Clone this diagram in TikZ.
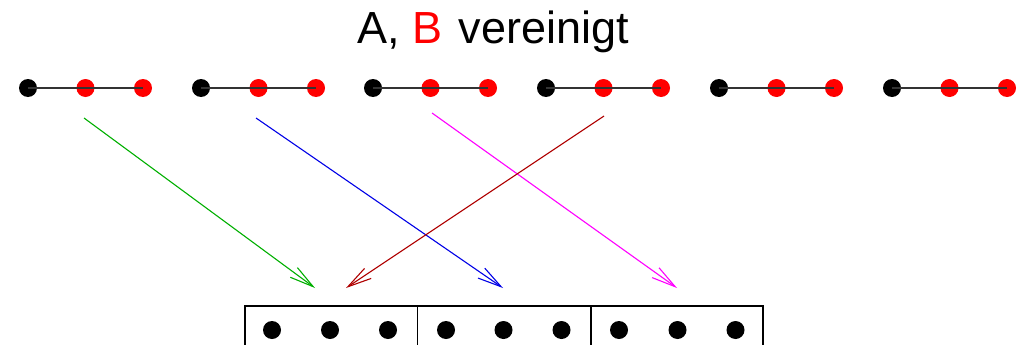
\documentclass[tikz,border=0pt]{standalone}
\usepackage{fontspec}
\setmainfont{Liberation Sans}
\usetikzlibrary{arrows.meta}
\definecolor{mygreen}{RGB}{0,175,0}
\definecolor{myblue}{RGB}{0,0,230}
\definecolor{mymag}{RGB}{255,0,255}
\definecolor{myred}{RGB}{175,0,0}
\begin{document}
\begin{tikzpicture}[x=1pt,y=-1pt,
  bdot/.style={circle,fill=black,inner sep=0pt,minimum size=18pt},
  rdot/.style={circle,fill=red,inner sep=0pt,minimum size=18pt},
  sdot/.style={circle,fill=black,inner sep=0pt,minimum width=17pt,minimum height=18pt},
  link/.style={draw=black!80,line width=1.4pt},
  arr/.style={line width=1.1pt,-{Straight Barb[length=24pt,width=12pt,line width=1.1pt]}},
  boxline/.style={draw=black,line width=1.3pt}]
\useasboundingbox (0,0) rectangle (1019,345);
\clip (0,0) rectangle (1019,345);
\node[anchor=base west,inner sep=0pt] (title) at (357,44) {\fontsize{45}{45}\selectfont A, \textcolor{red}{B}\hspace{4pt} vereinigt};
\foreach \i/\x in {1/28,2/201,3/373,4/546,5/719,6/892}{
  \node[bdot] (b\i) at (\x,88) {};
  \node[rdot] (r\i) at (\x+57.5,88) {};
  \node[rdot] (s\i) at (\x+115,88) {};
  \draw[link] (b\i.center) -- (s\i.center);
}
\coordinate (g0) at (84,118);
\coordinate (g1) at (315,288);
\coordinate (u0) at (256,118);
\coordinate (u1) at (503,288);
\coordinate (m0) at (432,113);
\coordinate (m1) at (677,288);
\coordinate (d0) at (604,116);
\coordinate (d1) at (346,288);
\draw[arr,mygreen] (g0) -- (g1);
\draw[arr,myblue] (u0) -- (u1);
\draw[arr,mymag] (m0) -- (m1);
\draw[arr,myred] (d0) -- (d1);
\coordinate (bx0) at (245,306);
\coordinate (bx1) at (763,360);
\draw[boxline] (bx0) rectangle (bx1);
\coordinate (dv1a) at (417.5,306);
\coordinate (dv1b) at (417.5,360);
\coordinate (dv2a) at (591,306);
\coordinate (dv2b) at (591,360);
\draw[boxline] (dv1a) -- (dv1b);
\draw[boxline] (dv2a) -- (dv2b);
\foreach \j/\x in {1/272,2/330,3/388,4/446,5/503.5,6/561.5,7/619,8/677.5,9/735.5}{
  \node[sdot] (k\j) at (\x,330) {};
}
\end{tikzpicture}
\end{document}
